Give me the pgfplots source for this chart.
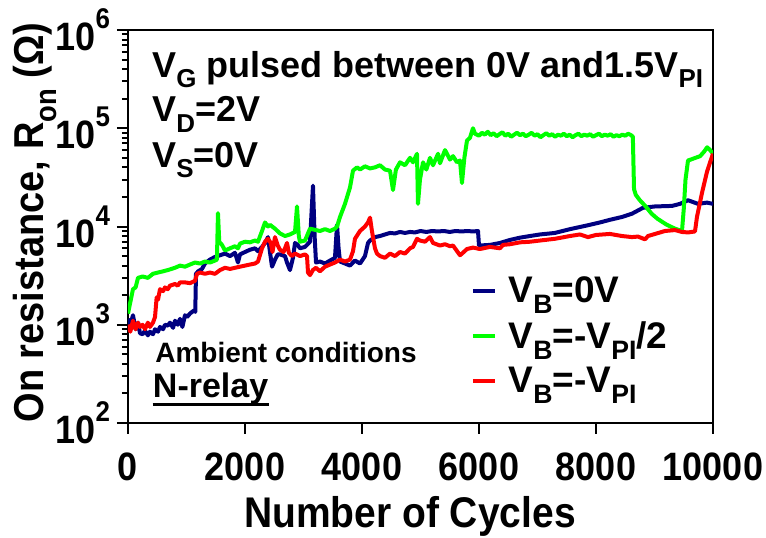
\documentclass[border=0pt]{standalone}
\usepackage{fontspec}
\setmainfont{Liberation Sans}
\usepackage{graphicx}
\usepackage{pgfplots}
\pgfplotsset{compat=1.18}
\newcommand\sub[1]{\raisebox{-0.3em}{\scalebox{0.72}{#1}}}
\newcommand\super[1]{\raisebox{0.55em}{\scalebox{0.72}{#1}}}
\newcommand\st[1]{\scalebox{1}[1.1]{#1}}
\definecolor{cnavy}{RGB}{0,0,128}
\definecolor{cgreen}{RGB}{0,255,0}
\definecolor{cred}{RGB}{255,0,0}

\begin{document}
\begin{tikzpicture}
\begin{axis}[
  name=ax,
  scale only axis,
  width=292.5pt, height=196.5pt,
  ymode=log,
  xmin=0, xmax=10000, ymin=100, ymax=1000000,
  axis line style={line width=1pt},
  every tick/.style={black, line width=1pt},
  tick align=outside,
  tick pos=left,
  major tick length=5.5pt,
  minor tick length=3pt,
  scaled x ticks=false,
  xtick={0,2000,4000,6000,8000,10000},
  xticklabels={\st{0},\st{2000},\st{4000},\st{6000},\st{8000},\st{10000}},
  ytick={100,1000,10000,100000,1000000},
  yticklabels={\st{10\super{2}},\st{10\super{3}},\st{10\super{4}},\st{10\super{5}},\st{10\super{6}}},
  ticklabel style={font=\fontsize{18}{20}\selectfont\bfseries},
  xticklabel style={yshift=-6pt},
  xlabel={\st{Number of Cycles}},
  ylabel={\st{On resistance, R\sub{on} (Ω)}},
  xlabel style={font=\fontsize{19.5}{21}\selectfont\bfseries,
    at={(axis description cs:0.482,-0.238)}, anchor=center},
  ylabel style={font=\fontsize{19}{21}\selectfont\bfseries,
    at={(axis description cs:-0.159,0.51)}, anchor=center},
  legend style={draw=none, fill=none, at={(rel axis cs:0.575,0.394)}, anchor=north west,
    font=\fontsize{18.5}{20}\selectfont\bfseries, row sep=4pt},
  legend cell align=left,
  legend image code/.code={\draw[#1, line width=2pt] (0pt,0pt) -- (11pt,0pt); \path (15pt,0pt);},
  every axis plot/.append style={line width=2pt, line join=round},
  clip=true,
]
\addplot[cnavy] coordinates {
(0,1150)(40,1000)(85,1250)(130,900)(171,1050)(205,820)(250,800)(291,870)(340,780)
(376,850)(427,800)(462,900)(513,850)(547,950)(600,900)(632,1000)(680,980)(718,1050)
(770,930)(803,1100)(850,1000)(889,1150)(930,950)(974,1250)(1010,1200)(1060,1300)
(1094,1350)(1130,1400)(1150,1350)(1162,3300)(1200,3500)(1265,3700)(1316,4200)
(1400,4600)(1487,4900)(1573,5100)(1658,5300)(1744,5000)(1829,5400)(1880,4300)
(1915,5200)(2000,5500)(2085,5800)(2171,6000)(2222,5600)(2291,6200)(2342,6800)
(2393,7800)(2427,5500)(2462,3900)(2513,4600)(2560,5200)(2598,5200)(2684,5000)
(2718,4300)(2769,3600)(2820,4800)(2855,6800)(2900,6500)(2940,6000)(3026,6200)
(3111,7000)(3162,26000)(3190,8000)(3214,4300)(3282,4400)(3368,4200)(3453,4500)
(3538,4800)(3573,10400)(3600,6000)(3624,4400)(3709,4200)(3795,4000)(3880,4500)
(3966,4200)(4051,5000)(4103,6800)(4137,7200)(4222,7800)(4308,8000)(4393,8300)
(4479,8600)(4564,8500)(4650,8800)(4735,8600)(4821,8800)(4906,8700)(5000,9000)
(5100,8800)(5200,9000)(5300,8900)(5400,9000)(5500,8800)(5600,9000)(5700,8900)
(5800,9000)(5900,8900)(5983,9000)(6000,6400)(6188,6500)(6359,6800)(6530,7300)
(6701,7700)(6872,8000)(7043,8300)(7299,8600)(7556,9400)(7863,10300)(8068,11000)
(8239,11700)(8444,12500)(8615,13500)(8803,15500)(9009,16000)(9299,16200)
(9436,17000)(9573,18500)(9744,17000)(9897,17500)(10000,17000)
};
\addlegendentry{V\sub{B}=0V}
\addplot[cgreen] coordinates {
(0,1300)(40,1700)(85,2300)(130,2400)(171,3000)(250,3100)(340,3000)(427,3300)
(513,3400)(600,3500)(680,3600)(803,3800)(889,4000)(974,3900)(1060,4100)(1145,4300)
(1231,4200)(1316,4400)(1402,4300)(1487,4500)(1520,4600)(1538,13700)(1560,7000)
(1607,6500)(1658,5700)(1744,6000)(1829,6300)(1880,6000)(1915,6700)(2000,7000)
(2085,6900)(2171,7200)(2222,7000)(2291,9000)(2342,11000)(2393,10000)(2427,10400)
(2513,9500)(2598,8500)(2684,8000)(2769,8300)(2855,8800)(2889,16000)(2920,8000)
(2940,7000)(3026,7200)(3111,9500)(3214,9200)(3282,9000)(3368,9400)(3453,9000)
(3538,9500)(3573,10000)(3624,12500)(3709,17000)(3795,25000)(3846,37000)
(3915,40000)(3966,38000)(4051,41000)(4137,39000)(4222,40000)(4308,42000)
(4393,38000)(4479,37000)(4530,23500)(4580,38000)(4650,45000)(4735,42000)
(4821,50000)(4872,45000)(4940,55000)(4957,17000)(4991,30000)(5043,45000)
(5100,38000)(5162,50000)(5214,42000)(5300,55000)(5333,44000)(5419,60000)
(5504,48000)(5556,52000)(5624,45000)(5675,47000)(5709,27700)(5750,50000)
(5795,75000)(5846,80000)(5897,100000)(5932,88000)(6000,84000)(6050,90000)
(6100,86000)(6150,92000)(6200,85000)(6250,89000)(6300,83000)(6350,87000)
(6400,91000)(6450,84000)(6500,88000)(6550,82000)(6600,86000)(6650,90000)
(6700,85000)(6750,88000)(6800,83000)(6850,86000)(6900,90000)(6950,84000)
(7000,87000)(7050,81000)(7100,85000)(7150,89000)(7200,84000)(7250,87000)
(7300,82000)(7350,86000)(7400,84000)(7450,88000)(7500,83000)(7550,86000)
(7600,81000)(7650,85000)(7700,88000)(7750,83000)(7800,86000)(7850,84000)
(7900,87000)(7950,82000)(8000,85000)(8050,88000)(8100,83000)(8150,86000)
(8200,84000)(8250,87000)(8300,82000)(8350,85000)(8400,83000)(8450,86000)
(8500,84000)(8550,88000)(8600,85000)(8630,82000)(8650,24000)(8680,21000)
(8750,18500)(8850,16000)(8950,13500)(9050,12000)(9200,10500)(9350,9500)
(9450,9100)(9470,9000)(9500,15000)(9530,30000)(9573,47000)(9620,48000)
(9700,50000)(9780,52000)(9850,58000)(9900,64000)(9950,60000)(10000,55000)
};
\addlegendentry{V\sub{B}=-V\sub{PI}/2}
\addplot[cred] coordinates {
(0,1000)(40,850)(85,1100)(130,900)(171,1050)(205,950)(250,1000)(291,900)(340,1050)
(376,950)(427,1050)(462,1200)(490,1900)(513,1800)(547,2300)(600,2200)(632,2400)
(680,2300)(718,2500)(803,2600)(850,2500)(889,2700)(974,2700)(1060,2650)(1145,2800)
(1180,3300)(1231,3400)(1316,3300)(1400,3400)(1487,3300)(1573,3600)(1658,3800)
(1744,3700)(1829,3800)(1915,3900)(2000,4000)(2085,4100)(2171,4200)(2222,4400)
(2291,6000)(2342,7000)(2393,7500)(2440,6800)(2470,5500)(2513,7800)(2560,6400)
(2598,5800)(2660,5500)(2718,6800)(2750,5400)(2800,5000)(2855,5300)(2940,5000)
(3026,5200)(3060,5000)(3077,3400)(3111,3200)(3160,3600)(3214,3800)(3282,3500)
(3368,3900)(3453,4100)(3538,4300)(3624,4600)(3709,4400)(3795,4600)(3846,5600)
(3880,7500)(3966,9000)(4051,10000)(4103,11000)(4137,12300)(4170,9000)(4222,6000)
(4256,5300)(4308,5000)(4393,4800)(4479,5300)(4564,5000)(4650,5500)(4735,5300)
(4821,6000)(4872,6200)(4940,7500)(4991,7200)(5077,7000)(5162,7800)(5214,6800)
(5333,6400)(5419,6600)(5504,6300)(5556,6400)(5675,5100)(5709,5300)(5795,5900)
(5897,6100)(6017,5900)(6188,6200)(6359,6000)(6410,6500)(6530,6600)(6701,6900)
(6872,7000)(7043,7200)(7299,7500)(7556,8000)(7726,8300)(7863,7800)(8000,8200)
(8239,8400)(8444,8000)(8615,7800)(8718,7900)(8838,7400)(8889,8000)(9009,8400)
(9179,9000)(9350,9200)(9470,8800)(9573,8700)(9692,8900)(9726,12500)(9812,22000)
(9897,36000)(9950,45000)(10000,55000)
};
\addlegendentry{V\sub{B}=-V\sub{PI}}
\node[anchor=base west, inner sep=0pt, font=\fontsize{18}{20}\selectfont\bfseries]
  at (rel axis cs:0.041,0.880) {V\sub{G} pulsed between 0V and1.5V\sub{PI}};
\node[anchor=base west, inner sep=0pt, font=\fontsize{18}{20}\selectfont\bfseries]
  at (rel axis cs:0.041,0.766) {V\sub{D}=2V};
\node[anchor=base west, inner sep=0pt, font=\fontsize{18}{20}\selectfont\bfseries]
  at (rel axis cs:0.041,0.651) {V\sub{S}=0V};
\node[anchor=base west, inner sep=0pt, font=\fontsize{14}{16}\selectfont\bfseries]
  at (rel axis cs:0.046,0.155) {Ambient conditions};
\node[anchor=base west, inner sep=0pt, font=\fontsize{17}{19}\selectfont\bfseries]
  (nr) at (rel axis cs:0.042,0.064) {N-relay};
\draw[line width=1.5pt] ([yshift=-3.5pt]nr.base west) -- ([yshift=-3.5pt]nr.base east);
\end{axis}
\pgfresetboundingbox
\path ([shift={(-64pt,-57pt)}]ax.south west) rectangle ([shift={(26.5pt,15pt)}]ax.north east);
\end{tikzpicture}
\end{document}
